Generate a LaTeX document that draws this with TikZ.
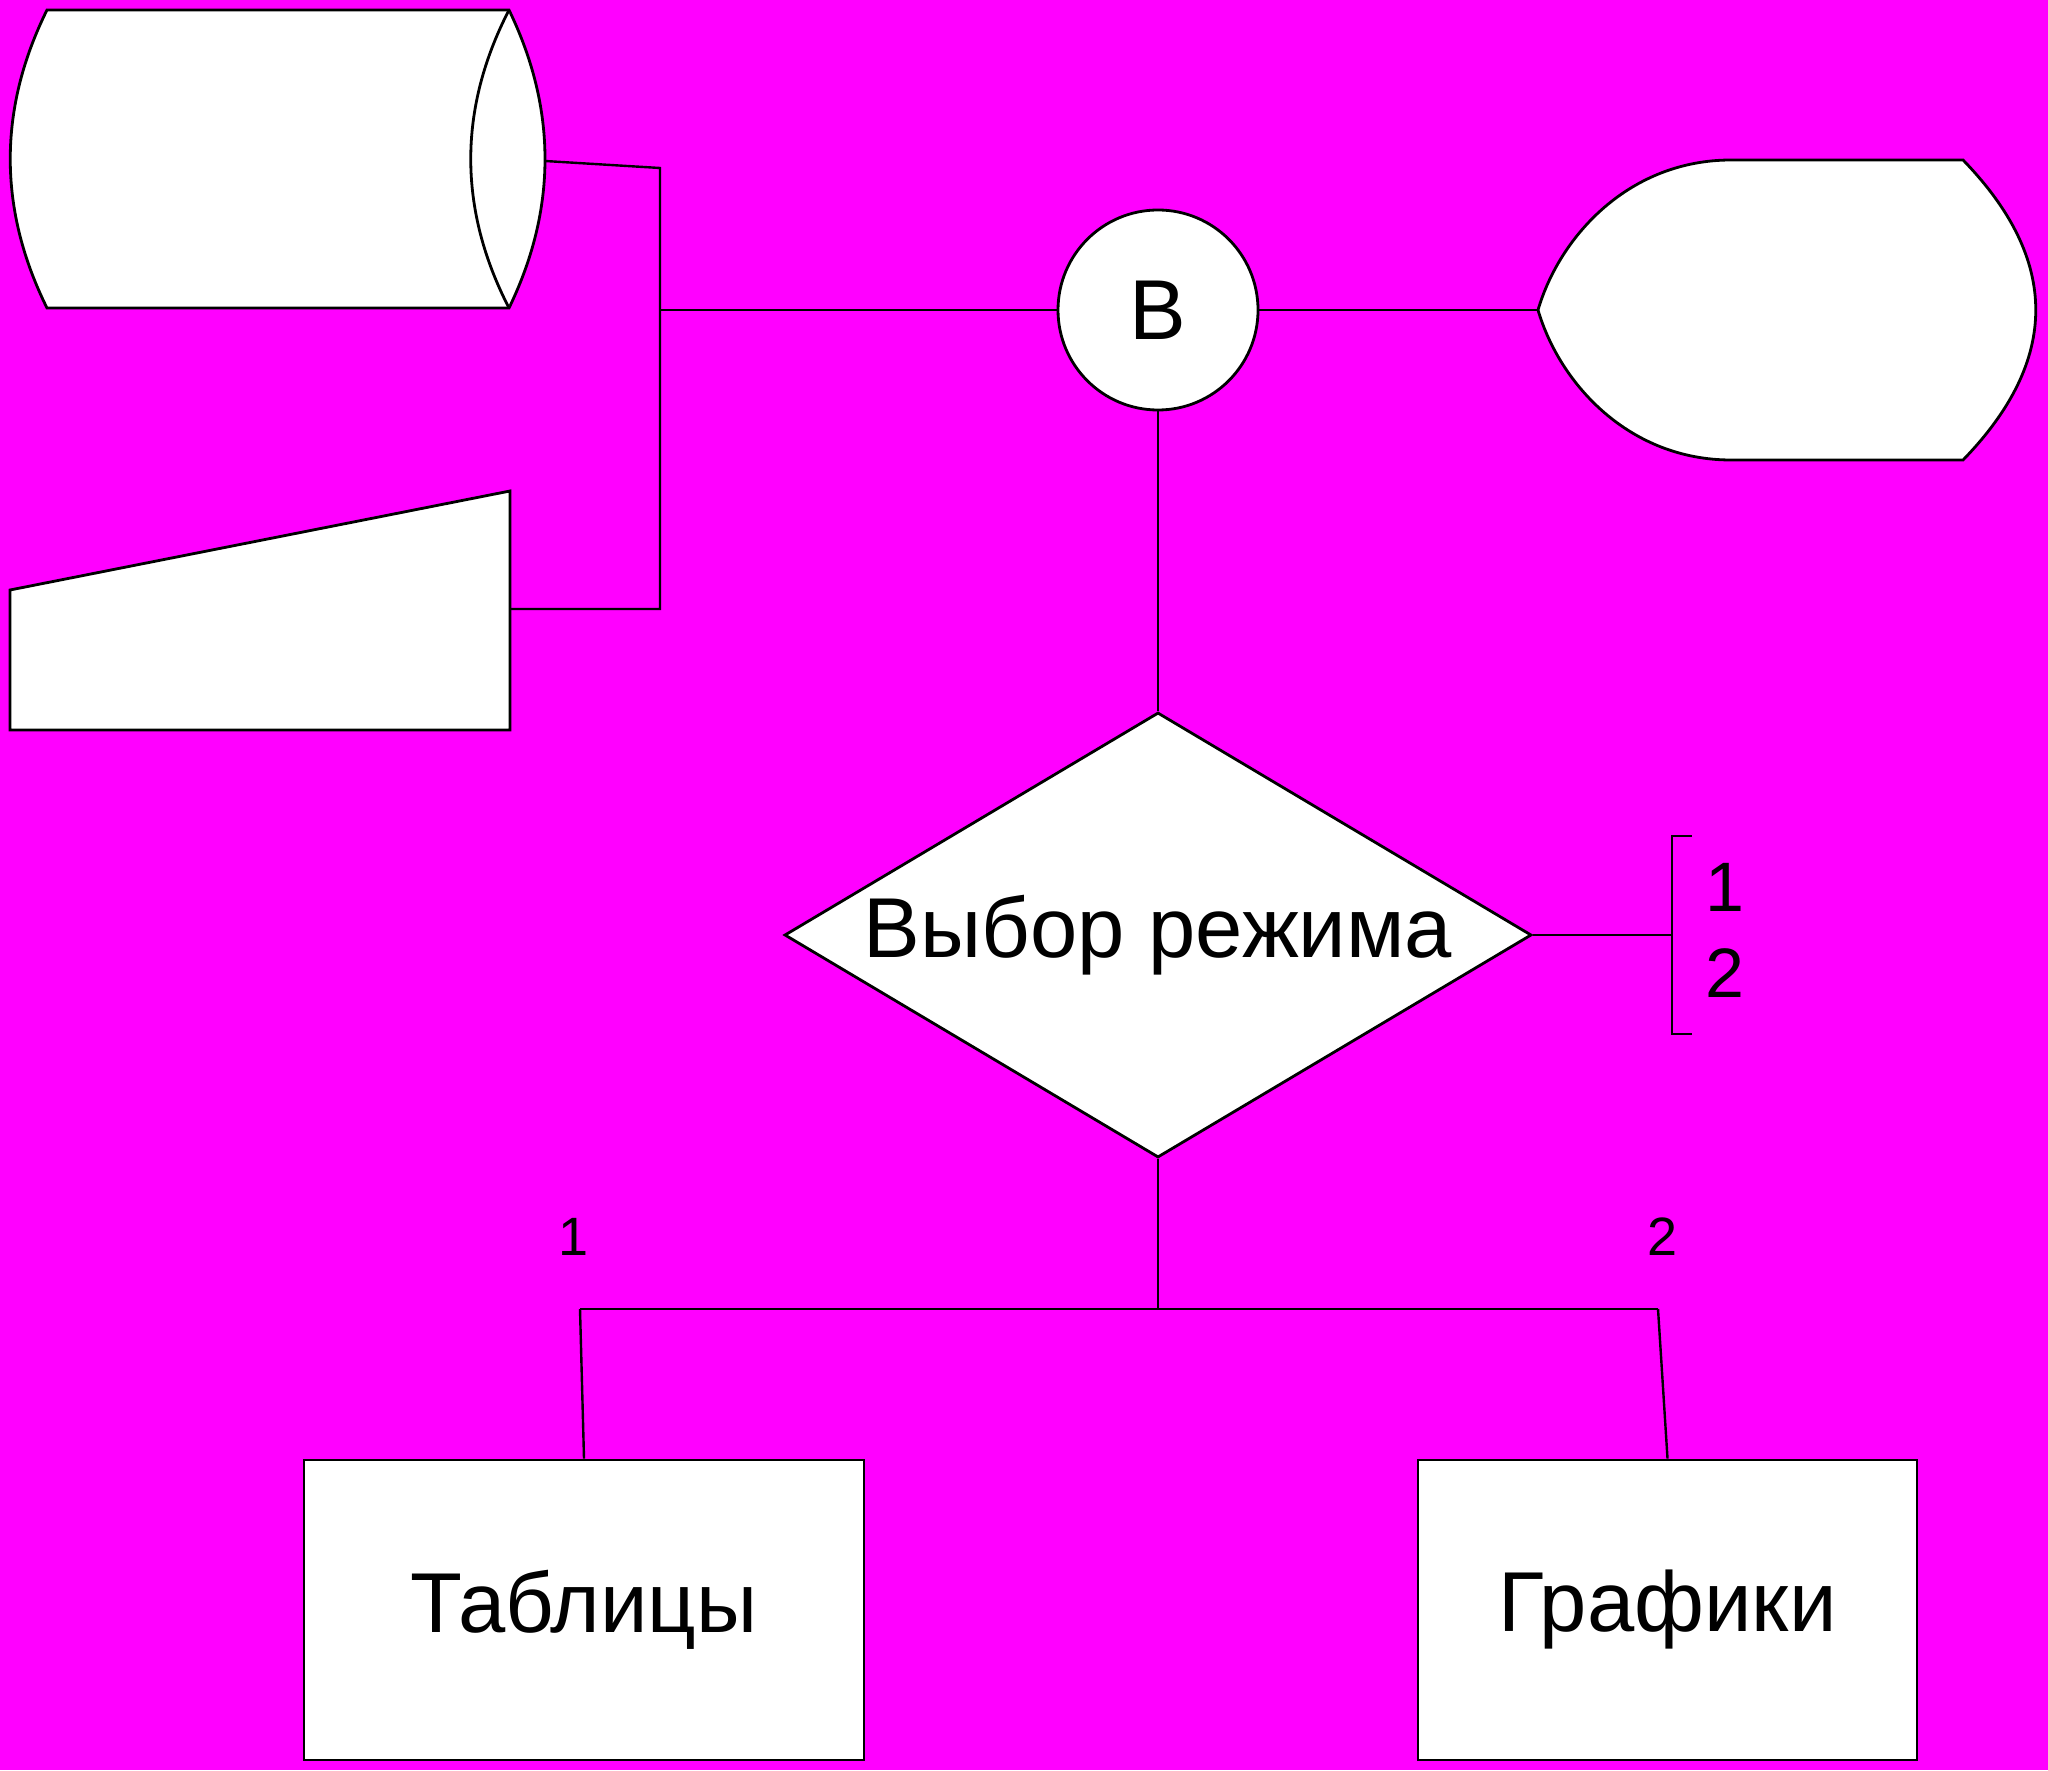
\documentclass[tikz,border=0pt]{standalone}
\usepackage{fontspec}
\setmainfont{Liberation Sans}
\usetikzlibrary{shapes.geometric}
\definecolor{fon}{RGB}{255,0,255}
\tikzset{
    figura/.style={draw, fill=white, line width=1.4pt},
    bolshoj/.style={font=\fontsize{42.5}{50}\selectfont},
}
\begin{document}
\begin{tikzpicture}[x=0.5pt, y=-0.5pt, line width=1.2pt]
    \fill[fon] (0,0) rectangle (2048,1770);
    \useasboundingbox (0,0) rectangle (2048,1770);

    \draw[figura] (47,10) -- (509,10) .. controls (557,109) and (557,209) .. (509,308) -- (47,308) .. controls (-2,209) and (-2,109) .. (47,10) -- cycle;
    \draw[figura] (509,10) .. controls (458,109) and (458,209) .. (509,308);
    \coordinate (baza) at (545,161);

    \draw[figura] (10,590) -- (510,491) -- (510,730) -- (10,730) -- cycle;
    \coordinate (ruchn) at (510,609);

    \draw[figura] (1538,310) .. controls (1560,235) and (1630,160) .. (1731,160) -- (1963,160) .. controls (2060,260) and (2060,360) .. (1963,460) -- (1731,460) .. controls (1630,460) and (1560,385) .. (1538,310) -- cycle;
    \coordinate (ekran) at (1538,310);

    \node[figura, circle, minimum size=100pt, inner sep=0pt, bolshoj] (krug) at (1158,310) {В};
    \node[figura, diamond, aspect=1.68, inner sep=0pt, minimum width=373.5pt, minimum height=222.5pt, bolshoj] (vybor) at (1158,935) {Выбор режима};
    \node[figura, minimum width=280pt, minimum height=150pt, bolshoj] (tabl) at (584,1610) {Таблицы};
    \node[figura, minimum width=249.5pt, minimum height=150pt, bolshoj] (graf) at (1667.5,1610) {Графики};

    \coordinate (verh) at (660,168);
    \coordinate (uzel) at (660,310);
    \coordinate (niz) at (660,609);
    \draw (baza) -- (verh) -- (niz) -- (ruchn);
    \draw (uzel) -- (krug.west);
    \draw (krug.east) -- (ekran);
    \draw (krug.south) -- (vybor.north);

    \coordinate (skob) at (1672,935);
    \draw (vybor.east) -- (skob);
    \draw (1692,836) -- (1672,836) -- (1672,1034) -- (1692,1034);
    \node[font=\fontsize{35}{40}\selectfont, inner sep=0pt] at (1725,887) {1};
    \node[font=\fontsize{35}{40}\selectfont, inner sep=0pt] at (1725,973) {2};

    \coordinate (razv) at (1158,1309);
    \coordinate (lev) at (580,1309);
    \coordinate (prav) at (1658,1309);
    \draw (vybor.south) -- (razv);
    \draw (lev) -- (prav);
    \draw (lev) -- (tabl.north);
    \draw (prav) -- (graf.north);
    \node[font=\fontsize{27}{30}\selectfont, inner sep=0pt] at (574,1237) {1};
    \node[font=\fontsize{27}{30}\selectfont, inner sep=0pt] at (1662,1237) {2};
\end{tikzpicture}
\end{document}
